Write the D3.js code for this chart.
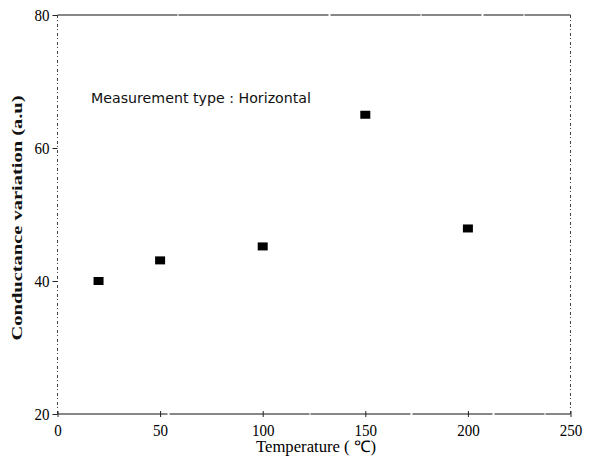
<!DOCTYPE html>
<html><head><meta charset="utf-8">
<script src="https://cdn.jsdelivr.net/npm/d3@7"></script>
<style>body{margin:0;background:#fff}svg{display:block}</style>
</head><body>
<script>
const temperatures = [20, 50, 100, 150, 200];
const conductance = [40, 43.1, 45.2, 65, 47.9];
const xTicks = [0, 50, 100, 150, 200, 250];
const yTicks = [20, 40, 60, 80];
const annotation = "Measurement type : Horizontal";
const xTitle = "Temperature ( \u2103)";
const yTitle = "Conductance variation (a.u)";

const W = 590, H = 464;
const svg = d3.select("body").append("svg").attr("width", W).attr("height", H);
const x = d3.scaleLinear().domain([0, 250]).range([57.5, 570.5]);
const y = d3.scaleLinear().domain([20, 80]).range([414, 15]);

// frame
const g = svg.append("g");
g.append("line").attr("x1", x(0)).attr("x2", x(250)).attr("y1", y(80)).attr("y2", y(80))
  .attr("stroke", "#111").attr("stroke-width", 1.1).attr("stroke-dasharray", "120,1,150,2,90,1,60,2,40,1");
g.append("line").attr("x1", x(0)).attr("x2", x(250)).attr("y1", y(20)).attr("y2", y(20))
  .attr("stroke", "#111").attr("stroke-width", 1.1).attr("stroke-dasharray", "110,2,140,1,100,2,80,2,50,1");
g.append("line").attr("x1", x(0)).attr("x2", x(0)).attr("y1", y(80)).attr("y2", y(20))
  .attr("stroke", "#444").attr("stroke-width", 1).attr("stroke-dasharray", "3,2,1,3");
g.append("line").attr("x1", x(250)).attr("x2", x(250)).attr("y1", y(80)).attr("y2", y(20))
  .attr("stroke", "#444").attr("stroke-width", 1).attr("stroke-dasharray", "3,2,1,3");

// axes via d3
const ya = svg.append("g").attr("transform", `translate(${x(0)},0)`)
  .call(d3.axisLeft(y).tickValues(yTicks).tickSize(5).tickPadding(4).tickFormat(d3.format("d")));
ya.select(".domain").remove();
ya.selectAll(".tick line").attr("stroke", "#222");
ya.selectAll(".tick text").attr("font-family", "Liberation Serif, serif").attr("font-size", 17)
  .attr("fill", "#000").attr("x", -8)
  .attr("textLength", d => String(d).length * 7.5).attr("lengthAdjust", "spacingAndGlyphs");

const xa = svg.append("g").attr("transform", `translate(0,${y(20)})`)
  .call(d3.axisBottom(x).tickValues(xTicks).tickSize(4).tickPadding(6).tickFormat(d3.format("d")));
xa.select(".domain").remove();
xa.selectAll(".tick line").attr("stroke", "#222").attr("y1", -3).attr("y2", 3);
xa.selectAll(".tick text").attr("font-family", "Liberation Serif, serif").attr("font-size", 17)
  .attr("fill", "#000")
  .attr("textLength", d => String(d).length * 7.5).attr("lengthAdjust", "spacingAndGlyphs");

// points
svg.append("g").selectAll("rect").data(temperatures).join("rect")
  .attr("x", (d) => x(d) - 5).attr("y", (d, i) => y(conductance[i]) - 4)
  .attr("width", 10).attr("height", 8).attr("fill", "#000");

// annotation
svg.append("text").attr("x", 91).attr("y", 103).text(annotation)
  .attr("font-family", "DejaVu Sans, sans-serif").attr("font-size", 14).attr("fill", "#111")
  .attr("textLength", 220).attr("lengthAdjust", "spacingAndGlyphs");

// titles
svg.append("text").attr("x", 316).attr("y", 452).attr("text-anchor", "middle").text(xTitle)
  .attr("font-family", "Liberation Serif, serif").attr("font-size", 16).attr("fill", "#000")
  .attr("textLength", 120).attr("lengthAdjust", "spacingAndGlyphs");
svg.append("text").attr("transform", `translate(22,218) rotate(-90)`).attr("text-anchor", "middle")
  .text(yTitle).attr("font-family", "Liberation Serif, serif").attr("font-size", 15)
  .attr("font-weight", "bold").attr("fill", "#111")
  .attr("textLength", 245).attr("lengthAdjust", "spacingAndGlyphs");
</script>
</body></html>
